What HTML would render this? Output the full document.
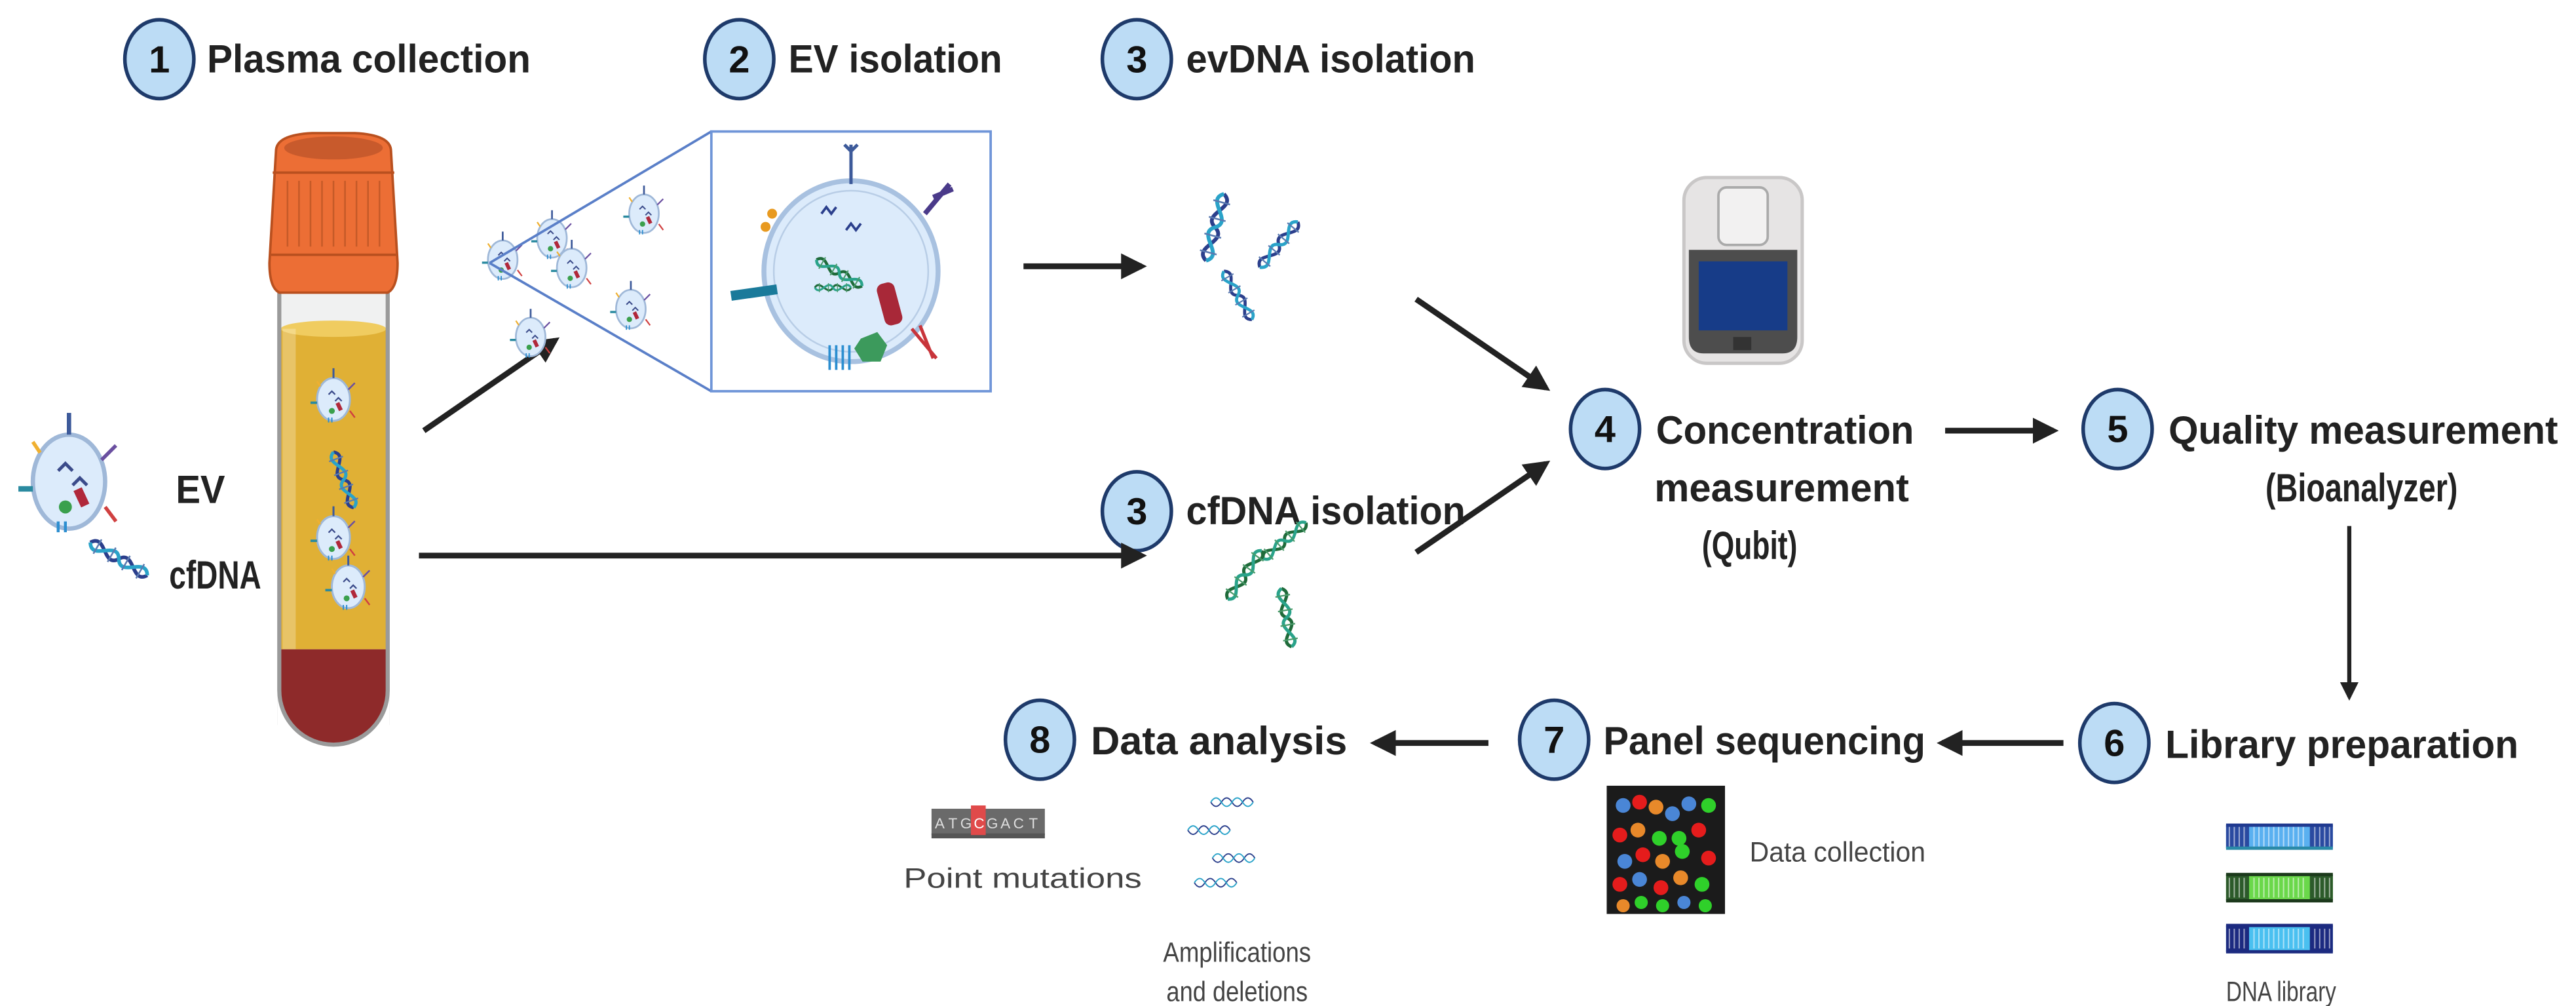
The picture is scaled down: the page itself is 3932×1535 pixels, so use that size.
<!DOCTYPE html>
<html><head><meta charset="utf-8"><style>
html,body{margin:0;padding:0;background:#fff}
svg{display:block}
.h{font-family:"Liberation Sans Narrow","Liberation Sans",sans-serif;font-weight:bold;font-size:24px;fill:#222}
.r{font-family:"Liberation Sans Narrow","Liberation Sans",sans-serif;font-size:17px;fill:#444}
.n{font-family:"Liberation Sans",sans-serif;font-weight:bold;font-size:23px;fill:#111;text-anchor:middle}
</style></head><body>
<svg width="3932" height="1535" viewBox="0 0 1568 612" preserveAspectRatio="none" xmlns="http://www.w3.org/2000/svg">
<defs>
<marker id="ah" viewBox="0 0 10 10" refX="8" refY="5" markerWidth="4.5" markerHeight="4.5" orient="auto"><path d="M0,0 L10,5 L0,10 Z" fill="#222"/></marker>
<g id="ev">
 <ellipse cx="0" cy="0" rx="10" ry="13" fill="#dcebfb" stroke="#9fb8d8" stroke-width="1.2"/>
 <line x1="0" y1="-13" x2="0" y2="-19" stroke="#3d5a9a" stroke-width="1.2"/>
 <path d="M-3,-3 l2,-2 l2,2 M1,1 l2,-2 l2,2" stroke="#3b4b8a" stroke-width="0.9" fill="none"/>
 <rect x="2" y="2" width="2.5" height="5" fill="#b0283a" transform="rotate(-25 3 4)"/>
 <circle cx="-1" cy="7" r="1.8" fill="#3aa04d"/>
 <path d="M9,-6 l4,-4" stroke="#6a4fa0" stroke-width="1"/>
 <path d="M10,7 l3,4" stroke="#d04040" stroke-width="1"/>
 <path d="M-10,2 h-4" stroke="#2a8aa0" stroke-width="1.5"/>
 <path d="M-8,-8 l-2,-3" stroke="#f0b030" stroke-width="1"/>
 <path d="M-3,11 v3 M-1,11 v3" stroke="#2c8ed0" stroke-width="0.8"/>
</g>
<g id="dna">
 <path d="M0,0 C10,6 -10,14 0,20 C10,26 -10,34 0,40" stroke="#2b3f8c" stroke-width="2.2" fill="none"/>
 <path d="M0,0 C-10,6 10,14 0,20 C-10,26 10,34 0,40" stroke="#2aa3c9" stroke-width="2.2" fill="none"/>
 <path d="M-5,5h10M-5,15h10M-5,25h10M-5,35h10" stroke="#5a7ab0" stroke-width="1"/>
</g>
<g id="dnag">
 <path d="M0,0 C10,6 -10,14 0,20 C10,26 -10,34 0,40" stroke="#1f6b3a" stroke-width="2.2" fill="none"/>
 <path d="M0,0 C-10,6 10,14 0,20 C-10,26 10,34 0,40" stroke="#2aa38a" stroke-width="2.2" fill="none"/>
 <path d="M-5,5h10M-5,15h10M-5,25h10M-5,35h10" stroke="#4a9a6a" stroke-width="1"/>
</g>
<g id="hz">
 <path d="M0,0 c5,8 10,8 15,0 c5,-8 10,-8 15,0 c5,8 10,8 15,0 c5,-8 10,-8 15,0" stroke="#2b3f8c" stroke-width="1.8" fill="none"/>
 <path d="M0,0 c5,-8 10,-8 15,0 c5,8 10,8 15,0 c5,-8 10,-8 15,0 c5,8 10,8 15,0" stroke="#2aa3c9" stroke-width="1.8" fill="none"/>
</g>
<g id="rungs"><path d="M2,1v12M5,1v12M8,1v12M11,1v12M17,1v12M20,1v12M23,1v12M26,1v12M29,1v12M32,1v12M35,1v12M38,1v12M41,1v12M44,1v12M47,1v12M54,1v12M57,1v12M60,1v12M63,1v12" stroke="#fff" stroke-width="0.8" opacity="0.55"/></g>
</defs>

<g fill="#bcdcf5" stroke="#1e3a6a" stroke-width="2.2">
<ellipse cx="97" cy="36" rx="21" ry="24"/>
<ellipse cx="450" cy="36" rx="21" ry="24"/>
<ellipse cx="692" cy="36" rx="21" ry="24"/>
<ellipse cx="692" cy="311" rx="21" ry="24"/>
<ellipse cx="977" cy="261" rx="21" ry="24"/>
<ellipse cx="1289" cy="261" rx="21" ry="24"/>
<ellipse cx="1287" cy="452" rx="21" ry="24"/>
<ellipse cx="946" cy="450" rx="21" ry="24"/>
<ellipse cx="633" cy="450" rx="21" ry="24"/>
</g>
<text class="n" x="97" y="44">1</text>
<text class="n" x="450" y="44">2</text>
<text class="n" x="692" y="44">3</text>
<text class="n" x="692" y="319">3</text>
<text class="n" x="977" y="269">4</text>
<text class="n" x="1289" y="269">5</text>
<text class="n" x="1287" y="460">6</text>
<text class="n" x="946" y="458">7</text>
<text class="n" x="633" y="458">8</text>

<text class="h" x="126" y="44" textLength="197" lengthAdjust="spacingAndGlyphs">Plasma collection</text>
<text class="h" x="480" y="44" textLength="130" lengthAdjust="spacingAndGlyphs">EV isolation</text>
<text class="h" x="722" y="44" textLength="176" lengthAdjust="spacingAndGlyphs">evDNA isolation</text>
<text class="h" x="722" y="319" textLength="170" lengthAdjust="spacingAndGlyphs">cfDNA isolation</text>
<text class="h" x="1008" y="270" textLength="157" lengthAdjust="spacingAndGlyphs">Concentration</text>
<text class="h" x="1007" y="305" textLength="155" lengthAdjust="spacingAndGlyphs">measurement</text>
<text class="h" x="1036" y="340" textLength="58" lengthAdjust="spacingAndGlyphs">(Qubit)</text>
<text class="h" x="1320" y="270" textLength="237" lengthAdjust="spacingAndGlyphs">Quality measurement</text>
<text class="h" x="1379" y="305" textLength="117" lengthAdjust="spacingAndGlyphs">(Bioanalyzer)</text>
<text class="h" x="1318" y="461" textLength="215" lengthAdjust="spacingAndGlyphs">Library preparation</text>
<text class="h" x="976" y="459" textLength="196" lengthAdjust="spacingAndGlyphs">Panel sequencing</text>
<text class="h" x="664" y="459" textLength="156" lengthAdjust="spacingAndGlyphs">Data analysis</text>
<text class="h" x="107" y="306" textLength="30" lengthAdjust="spacingAndGlyphs">EV</text>
<text class="h" x="103" y="358" textLength="56" lengthAdjust="spacingAndGlyphs">cfDNA</text>

<text class="r" x="1065" y="524" textLength="107" lengthAdjust="spacingAndGlyphs">Data collection</text>
<text class="r" x="550" y="540" textLength="145" lengthAdjust="spacingAndGlyphs">Point mutations</text>
<text class="r" x="708" y="585" textLength="90" lengthAdjust="spacingAndGlyphs">Amplifications</text>
<text class="r" x="710" y="609" textLength="86" lengthAdjust="spacingAndGlyphs">and deletions</text>
<text class="r" x="1355" y="609" textLength="67" lengthAdjust="spacingAndGlyphs">DNA library</text>

<g stroke="#222" stroke-width="3.5" fill="none" marker-end="url(#ah)">
<line x1="258" y1="262" x2="338" y2="207"/>
<line x1="623" y1="162" x2="695" y2="162"/>
<line x1="255" y1="338" x2="695" y2="338"/>
<line x1="862" y1="182" x2="941" y2="236"/>
<line x1="862" y1="336" x2="941" y2="282"/>
<line x1="1184" y1="262" x2="1250" y2="262"/>
<line x1="1430" y1="320" x2="1430" y2="424" stroke-width="2.5"/>
<line x1="1256" y1="452" x2="1182" y2="452"/>
<line x1="906" y1="452" x2="837" y2="452"/>
</g>

<rect x="170" y="170" width="66" height="270" fill="#f0f1f1" stroke="#aaa" stroke-width="2"/>
<path d="M171,200 H235 V395 H171 Z" fill="#e0b035"/>
<ellipse cx="203" cy="200" rx="32" ry="5" fill="#f0cc60"/>
<rect x="172" y="200" width="8" height="195" fill="#fff" opacity="0.25"/>
<rect x="169" y="420" width="68" height="40" fill="#fff"/>
<path d="M171,395 H235 V420 A32,32 0 0 1 171,420 Z" fill="#8e2a2a"/>
<path d="M170,170 V420 A33,33 0 0 0 236,420 V170" fill="none" stroke="#9a9a9a" stroke-width="2.5"/>
<path d="M168,92 Q168,82 190,81 H216 Q238,82 238,92 L242,160 Q242,175 236,178 H170 Q164,175 164,160 Z" fill="#ec6e35" stroke="#b9501f" stroke-width="1.5"/>
<ellipse cx="203" cy="90" rx="30" ry="7" fill="#c85a2c"/>
<g stroke="#c55a28" stroke-width="1">
<line x1="175" y1="110" x2="175" y2="150"/><line x1="182" y1="110" x2="182" y2="150"/><line x1="189" y1="110" x2="189" y2="150"/><line x1="196" y1="110" x2="196" y2="150"/><line x1="203" y1="110" x2="203" y2="150"/><line x1="210" y1="110" x2="210" y2="150"/><line x1="217" y1="110" x2="217" y2="150"/><line x1="224" y1="110" x2="224" y2="150"/><line x1="231" y1="110" x2="231" y2="150"/>
</g>
<line x1="166" y1="105" x2="240" y2="105" stroke="#b9501f" stroke-width="1.5"/>
<line x1="165" y1="155" x2="241" y2="155" stroke="#b9501f" stroke-width="1.5"/>
<use href="#ev" transform="translate(203,243)"/>
<use href="#ev" transform="translate(203,327)"/>
<use href="#ev" transform="translate(212,357)"/>
<use href="#dna" transform="translate(203,275) rotate(-20) scale(0.9)"/>

<use href="#ev" transform="translate(42,293) scale(2.2)"/>
<use href="#dna" transform="translate(55,330) rotate(-60) scale(1)"/>

<use href="#ev" transform="translate(336,145) scale(0.9)"/>
<use href="#ev" transform="translate(384,188) scale(0.9)"/>
<use href="#ev" transform="translate(306,158) scale(0.9)"/>
<use href="#ev" transform="translate(348,163) scale(0.9)"/>
<use href="#ev" transform="translate(323,205) scale(0.9)"/>
<use href="#ev" transform="translate(392,130) scale(0.9)"/>

<path d="M298,160 L433,80 M298,160 L433,238" stroke="#5a7fc8" stroke-width="1.5" fill="none"/>
<rect x="433" y="80" width="170" height="158" fill="#fff" stroke="#6f95d8" stroke-width="1.5"/>
<ellipse cx="518" cy="165" rx="53" ry="55" fill="#dcebfb" stroke="#a8c1e0" stroke-width="3"/>
<ellipse cx="518" cy="165" rx="47" ry="49" fill="none" stroke="#b8cde6" stroke-width="1"/>
<path d="M518,88 V112 M514,88 l4,4 l4,-4" stroke="#3d5a9a" stroke-width="2" fill="none"/>
<path d="M563,130 l15,-18 M568,120 l12,-5" stroke="#4a3a8a" stroke-width="3" fill="none"/>
<path d="M555,200 l15,18 M560,198 l8,20" stroke="#c8343a" stroke-width="2" fill="none"/>
<path d="M445,180 l28,-4" stroke="#1a7a9a" stroke-width="6" fill="none"/>
<circle cx="470" cy="130" r="3" fill="#e89a20"/><circle cx="466" cy="138" r="3" fill="#e89a20"/>
<path d="M500,130 l3,-4 l3,4 l3,-4 M515,140 l3,-4 l3,4 l3,-4" stroke="#2b3f8c" stroke-width="1.5" fill="none"/>
<use href="#dnag" transform="translate(497,158) rotate(-60) scale(0.8)"/>
<use href="#dnag" transform="translate(496,175) rotate(-90) scale(0.55)"/>
<rect x="536" y="172" width="11" height="26" rx="4" fill="#a82838" transform="rotate(-15 541 185)"/>
<polygon points="524,206 534,202 540,210 536,220 525,220 520,212" fill="#3c9a5c"/>
<path d="M505,210 v15 M509,210 v15 M513,210 v15 M517,210 v15" stroke="#2c8ed0" stroke-width="1.5"/>

<use href="#dna" transform="translate(745,118) rotate(15) scale(1.05)"/>
<use href="#dna" transform="translate(790,135) rotate(40) scale(0.9)"/>
<use href="#dna" transform="translate(745,165) rotate(-30) scale(0.85)"/>
<use href="#dnag" transform="translate(795,318) rotate(50) scale(0.85)"/>
<use href="#dnag" transform="translate(768,335) rotate(35) scale(0.9)"/>
<use href="#dnag" transform="translate(780,358) rotate(-10) scale(0.9)"/>

<rect x="1025" y="108" width="72" height="113" rx="14" fill="#e6e4e4" stroke="#c9c7c7" stroke-width="2"/>
<rect x="1046" y="114" width="30" height="35" rx="5" fill="#f2f1f1" stroke="#aaa" stroke-width="1.5"/>
<path d="M1028,152 H1094 V205 Q1094,215 1085,215 H1037 Q1028,215 1028,205 Z" fill="#4d4d4d"/>
<rect x="1034" y="159" width="54" height="42" fill="#173c88"/>
<rect x="1055" y="205" width="11" height="8" fill="#333"/>

<rect x="978" y="478" width="72" height="78" fill="#1b1b1b"/>
<g>
<circle cx="988" cy="490" r="4.5" fill="#4a86d6"/><circle cx="998" cy="488" r="4.5" fill="#e51c1c"/><circle cx="1008" cy="491" r="4.5" fill="#e8892a"/><circle cx="1028" cy="489" r="4.5" fill="#4a86d6"/><circle cx="1040" cy="490" r="4.5" fill="#2fd02a"/><circle cx="1018" cy="495" r="4.5" fill="#4a86d6"/>
<circle cx="986" cy="508" r="4.5" fill="#e51c1c"/><circle cx="997" cy="505" r="4.5" fill="#e8892a"/><circle cx="1010" cy="510" r="4.5" fill="#2fd02a"/><circle cx="1022" cy="510" r="4.5" fill="#2fd02a"/><circle cx="1034" cy="505" r="4.5" fill="#e51c1c"/>
<circle cx="989" cy="524" r="4.5" fill="#4a86d6"/><circle cx="1000" cy="520" r="4.5" fill="#e51c1c"/><circle cx="1012" cy="524" r="4.5" fill="#e8892a"/><circle cx="1024" cy="518" r="4.5" fill="#2fd02a"/><circle cx="1040" cy="522" r="4.5" fill="#e51c1c"/>
<circle cx="986" cy="538" r="4.5" fill="#e51c1c"/><circle cx="998" cy="535" r="4.5" fill="#4a86d6"/><circle cx="1011" cy="540" r="4.5" fill="#e51c1c"/><circle cx="1023" cy="534" r="4.5" fill="#e8892a"/><circle cx="1036" cy="538" r="4.5" fill="#2fd02a"/>
<circle cx="988" cy="551" r="4" fill="#e8892a"/><circle cx="999" cy="549" r="4" fill="#2fd02a"/><circle cx="1012" cy="551" r="4" fill="#2fd02a"/><circle cx="1025" cy="549" r="4" fill="#4a86d6"/><circle cx="1038" cy="551" r="4" fill="#2fd02a"/>
</g>

<g>
<rect x="1355" y="502" width="65" height="14" fill="#5ab0f0"/><rect x="1355" y="502" width="14" height="14" fill="#2a4aa0"/><rect x="1406" y="502" width="14" height="14" fill="#2a4aa0"/>
<use href="#rungs" transform="translate(1355,502)"/>
<rect x="1355" y="501" width="65" height="2" fill="#203a90"/><rect x="1355" y="515" width="65" height="2" fill="#2a8aa8"/>
<rect x="1355" y="532" width="65" height="16" fill="#6ad84a"/><rect x="1355" y="532" width="14" height="16" fill="#2c5a2a"/><rect x="1406" y="532" width="14" height="16" fill="#2c5a2a"/>
<use href="#rungs" transform="translate(1355,533)"/>
<rect x="1355" y="531" width="65" height="2" fill="#1c3a1c"/><rect x="1355" y="547" width="65" height="2" fill="#1c3a1c"/>
<rect x="1355" y="563" width="65" height="16" fill="#4ac0f0"/><rect x="1355" y="563" width="14" height="16" fill="#1c2a80"/><rect x="1406" y="563" width="14" height="16" fill="#1c2a80"/>
<use href="#rungs" transform="translate(1355,564)"/>
<rect x="1355" y="562" width="65" height="2" fill="#1c2a80"/><rect x="1355" y="578" width="65" height="2" fill="#1c2a80"/>
</g>

<rect x="567" y="492" width="69" height="16" fill="#6a6a6a"/>
<rect x="567" y="507" width="69" height="3" fill="#555"/>
<rect x="591" y="490" width="9" height="18" fill="#e04a4a"/>
<g font-family="Liberation Sans,sans-serif" font-size="9" fill="#ddd" text-anchor="middle">
<text x="572" y="504">A</text><text x="580" y="504">T</text><text x="588" y="504">G</text><text x="596" y="504" fill="#fff">C</text><text x="604" y="504">G</text><text x="612" y="504">A</text><text x="620" y="504">C</text><text x="629" y="504">T</text>
</g>

<use href="#hz" transform="translate(737,488) scale(0.43)"/>
<use href="#hz" transform="translate(723,505) scale(0.43)"/>
<use href="#hz" transform="translate(738,522) scale(0.43)"/>
<use href="#hz" transform="translate(727,537) scale(0.43)"/>
</svg>
</body></html>
